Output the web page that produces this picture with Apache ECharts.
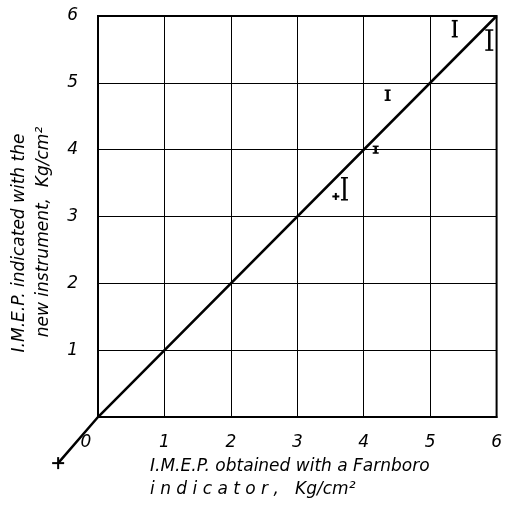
<!DOCTYPE html>
<html><head><meta charset="utf-8">
<script src="https://cdn.jsdelivr.net/npm/echarts@6/dist/echarts.min.js"></script>
<style>html,body{margin:0;padding:0;background:#fff}#c{width:505px;height:508px}</style>
</head><body><div id="c"></div>
<script>
var xTicks = ['0','1','2','3','4','5','6'];
var yTicks = ['','1','2','3','4','5','6'];
var lineX = [-0.6, 0, 6];
var lineY = [-0.69, 0, 6];
var errX = [5.37, 5.89, 4.36, 4.18, 3.71];
var errLow = [5.69, 5.49, 4.74, 3.95, 3.25];
var errHigh = [5.93, 5.79, 4.89, 4.05, 3.58];
var errCap = [6, 8, 6, 6, 7];
var plusX = [3.58, -0.6];
var plusY = [3.30, -0.69];
var plusSize = [7, 12];

var font = '"DejaVu Sans", sans-serif';
var chart = echarts.init(document.getElementById('c'));
chart.setOption({
  animation: false,
  backgroundColor: '#fff',
  grid: {left: 98, right: 6, top: 16, bottom: 91, show: true, borderColor: '#000', borderWidth: 2, backgroundColor: 'transparent'},
  xAxis: {type: 'value', min: 0, max: 6, interval: 1,
    axisLine: {lineStyle: {color: '#000', width: 2}},
    axisTick: {show: false},
    splitLine: {lineStyle: {color: '#000', width: 1}},
    axisLabel: {margin: 17, color: '#000', fontSize: 17, fontStyle: 'italic', fontFamily: font,
      formatter: function(v){ var t = xTicks[Math.round(v)]; return v === 0 ? '{z|' + t + '}' : t; },
      rich: {z: {fontSize: 17, fontStyle: 'italic', fontFamily: font, color: '#000', padding: [0, 24, 0, 0]}}}},
  yAxis: {type: 'value', min: 0, max: 6, interval: 1,
    axisLine: {lineStyle: {color: '#000', width: 2}},
    axisTick: {show: false},
    splitLine: {lineStyle: {color: '#000', width: 1}},
    axisLabel: {margin: 20, color: '#000', fontSize: 17, fontStyle: 'italic', fontFamily: font,
      formatter: function(v){ return yTicks[Math.round(v)]; }}},
  graphic: [
    {type: 'text', left: 150, top: 458, style: {text: 'I.M.E.P. obtained with a Farnboro', fill: '#000', font: 'italic 17px ' + font}},
    {type: 'text', left: 150, top: 481, style: {text: 'i n d i c a t o r ,   Kg/cm²', fill: '#000', font: 'italic 17px ' + font}},
    {type: 'text', x: 20, y: 243, rotation: Math.PI/2, style: {text: 'I.M.E.P. indicated with the', fill: '#000', font: 'italic 17px ' + font, align: 'center', verticalAlign: 'middle'}},
    {type: 'text', x: 44, y: 232, rotation: Math.PI/2, style: {text: 'new instrument,  Kg/cm²', fill: '#000', font: 'italic 17px ' + font, align: 'center', verticalAlign: 'middle'}}
  ],
  series: [
    {type: 'custom', clip: false,
      data: [lineX.map(function(x,i){ return [x, lineY[i]]; })],
      renderItem: function(params, api){
        var pts = lineX.map(function(x,i){ return api.coord([x, lineY[i]]); });
        return {type: 'polyline', shape: {points: pts}, style: {stroke: '#000', lineWidth: 2.5, fill: null}};
      }},
    {type: 'custom', clip: false,
      data: errX.map(function(x,i){ return [x, errLow[i], errHigh[i], errCap[i]]; }),
      renderItem: function(params, api){
        var lo = api.coord([api.value(0), api.value(1)]);
        var hi = api.coord([api.value(0), api.value(2)]);
        var w = api.value(3)/2;
        return {type: 'group', children: [
          {type: 'line', shape: {x1: lo[0], y1: lo[1], x2: hi[0], y2: hi[1]}, style: {stroke: '#000', lineWidth: 2.5}},
          {type: 'line', shape: {x1: lo[0]-w, y1: lo[1], x2: lo[0]+w, y2: lo[1]}, style: {stroke: '#000', lineWidth: 1.5}},
          {type: 'line', shape: {x1: hi[0]-w, y1: hi[1], x2: hi[0]+w, y2: hi[1]}, style: {stroke: '#000', lineWidth: 1.5}}
        ]};
      }},
    {type: 'custom', clip: false,
      data: plusX.map(function(x,i){ return [x, plusY[i], plusSize[i]]; }),
      renderItem: function(params, api){
        var p = api.coord([api.value(0), api.value(1)]);
        var s = api.value(2)/2;
        var st = {stroke: '#000', lineWidth: 2};
        return {type: 'group', children: [
          {type: 'line', shape: {x1: p[0]-s, y1: p[1], x2: p[0]+s, y2: p[1]}, style: st},
          {type: 'line', shape: {x1: p[0], y1: p[1]-s, x2: p[0], y2: p[1]+s}, style: st}
        ]};
      }}
  ]
});
</script></body></html>
